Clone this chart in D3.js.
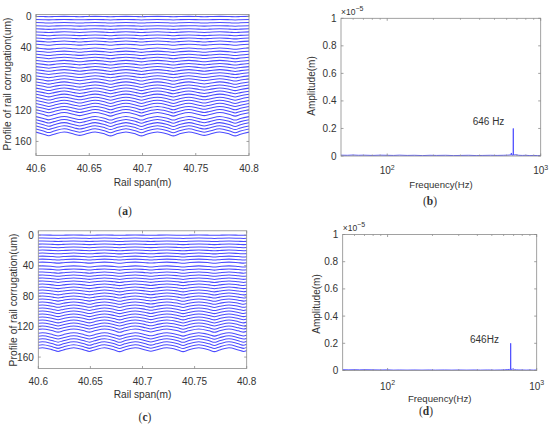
<!DOCTYPE html>
<html><head><meta charset="utf-8">
<script src="https://cdn.jsdelivr.net/npm/d3@7"></script>
<style>
body{margin:0;background:#fff;}
text{font-family:"Liberation Sans",Arial,sans-serif;fill:#333;}
</style></head>
<body><svg id="c" width="550" height="432"></svg>
<script>
// ---------- DATA ----------
const profileXTicks = [40.6, 40.65, 40.7, 40.75, 40.8];
const profileYTicks = [0, 40, 80, 120, 160];
// vertical offset (um) of each stacked profile line
const profileOffsets = [0,4,8,12,16,20,24,28,32,36,41,45,49,53,57,61,65,69,73,77,81,85,89,93,97,101,105,109,113,117,121,125,130,134,138,142,146,150];
// corrugation amplitude of each line (um), panel (a) and (c)
const ampsA = [0.2,0.25,0.3,0.3,0.35,0.4,0.45,0.5,0.55,0.6,0.65,0.7,0.75,0.8,0.85,0.9,0.95,1.0,1.05,1.1,1.2,1.3,1.4,1.45,1.5,1.6,1.7,1.75,1.8,1.85,1.9,1.95,2.0,2.05,2.1,2.15,2.2,2.2];
const ampsC = [0.2,0.25,0.3,0.35,0.35,0.4,0.45,0.5,0.55,0.6,0.65,0.7,0.75,0.8,0.85,0.9,0.95,1.0,1.1,1.15,1.2,1.3,1.35,1.4,1.5,1.55,1.6,1.7,1.75,1.8,1.85,1.9,1.95,2.0,2.05,2.1,2.15,2.2];
// normalised profile shape [rail span (m), deviation] ; + = downward
const shapeA = [[40.6,-0.9],[40.607,0.3],[40.612,1.2],[40.617,0.3],[40.6265,-1],[40.636,0.3],[40.641,1.0],[40.646,0.3],[40.6555,-1],[40.665,0.3],[40.670,1.3],[40.675,0.3],[40.6845,-1],[40.694,0.3],[40.699,1.3],[40.704,0.3],[40.714,-1],[40.724,0.3],[40.729,1.3],[40.734,0.3],[40.7435,-1],[40.753,0.3],[40.758,1.0],[40.763,0.3],[40.7725,-1],[40.782,0.3],[40.787,1.3],[40.792,0.3],[40.8,-0.9]];
const shapeC = [[40.6,-0.7],[40.604,-1],[40.614,0.3],[40.619,1.2],[40.624,0.3],[40.634,-1],[40.644,0.3],[40.649,1.2],[40.654,0.3],[40.6635,-1],[40.673,0.3],[40.678,1.3],[40.683,0.3],[40.693,-1],[40.703,0.3],[40.708,1.1],[40.713,0.3],[40.7235,-1],[40.734,0.3],[40.739,1.3],[40.744,0.3],[40.754,-1],[40.764,0.3],[40.769,1.3],[40.774,0.3],[40.783,-1],[40.792,0.3],[40.797,1.2],[40.8,0.6]];
// spectra: frequency (Hz) and amplitude (x1e-5 m)
const specYTicks = [0, 0.2, 0.4, 0.6, 0.8, 1];
const freqB = [50,55,60,65,70,80,90,100,110,120,135,150,170,190,210,240,270,300,340,380,420,470,520,570,610,640,644,648,662,663,664,690,720,760,800,850,900,950,1000];
const ampB  = [0.006,0.005,0.007,0.005,0.006,0.004,0.006,0.005,0.004,0.006,0.004,0.005,0.003,0.005,0.004,0.005,0.003,0.004,0.005,0.003,0.004,0.005,0.004,0.005,0.006,0.008,0.022,0.006,0.007,0.2,0.007,0.009,0.005,0.004,0.005,0.003,0.004,0.003,0.004];
const freqD = [50,55,60,65,70,80,90,100,110,120,135,150,170,190,210,240,270,300,340,380,420,470,520,570,610,640,655,668,669,670,700,710,730,760,800,850,900,950,1000];
const ampD  = [0.006,0.005,0.006,0.005,0.006,0.005,0.004,0.005,0.003,0.004,0.003,0.004,0.003,0.004,0.003,0.004,0.003,0.004,0.003,0.004,0.003,0.004,0.003,0.004,0.005,0.007,0.008,0.007,0.2,0.007,0.012,0.006,0.005,0.004,0.004,0.003,0.004,0.003,0.004];
const peakLabels = ["646 Hz", "646Hz"];
const panelLabels = ["a","b","c","d"];

// ---------- DRAW ----------
const svg = d3.select("#c");
svg.append("rect").attr("width",550).attr("height",432).attr("fill","#fff");
const AX = "#8a8a8a";
const LINE = "#4a4aff";

function box(g, x0, x1, y0, y1){
  g.append("rect").attr("x",x0).attr("y",y0).attr("width",x1-x0).attr("height",y1-y0)
   .attr("fill","none").attr("stroke",AX).attr("stroke-width",0.8);
}

function profilePanel(id, L, shape, amps){
  const g = svg.append("g");
  const x = d3.scaleLinear().domain([40.6,40.8]).range([L.x0,L.x1]);
  const y = d3.scaleLinear().domain(L.yd).range([L.y0,L.y1]);
  g.append("clipPath").attr("id","cp"+id).append("rect")
    .attr("x",L.x0).attr("y",L.y0).attr("width",L.x1-L.x0).attr("height",L.y1-L.y0);
  const line = d3.line().x(d=>x(d[0])).y(d=>y(d[1])).curve(d3.curveMonotoneX);
  const lg = g.append("g").attr("clip-path",`url(#cp${id})`);
  profileOffsets.forEach((off,i)=>{
    lg.append("path").attr("d", line(shape.map(p=>[p[0], off + amps[i]*p[1]])))
      .attr("fill","none").attr("stroke",LINE).attr("stroke-width",1.05);
  });
  box(g, L.x0, L.x1, L.y0, L.y1);
  profileXTicks.forEach(t=>{
    const px = x(t);
    g.append("line").attr("x1",px).attr("x2",px).attr("y1",L.y1).attr("y2",L.y1-2.5).attr("stroke",AX).attr("stroke-width",0.8);
    g.append("line").attr("x1",px).attr("x2",px).attr("y1",L.y0).attr("y2",L.y0+2.5).attr("stroke",AX).attr("stroke-width",0.8);
    g.append("text").attr("x",px).attr("y",L.xty).attr("text-anchor","middle").attr("dominant-baseline","central")
      .attr("font-size",10).text(d3.format("")(t));
  });
  profileYTicks.forEach(t=>{
    const py = y(t);
    g.append("line").attr("x1",L.x0).attr("x2",L.x0+2.5).attr("y1",py).attr("y2",py).attr("stroke",AX).attr("stroke-width",0.8);
    g.append("line").attr("x1",L.x1).attr("x2",L.x1-2.5).attr("y1",py).attr("y2",py).attr("stroke",AX).attr("stroke-width",0.8);
    g.append("text").attr("x",L.x0-4.5).attr("y",py).attr("text-anchor","end").attr("dominant-baseline","central")
      .attr("font-size",10).text(t);
  });
  g.append("text").attr("x",(L.x0+L.x1)/2).attr("y",L.xly).attr("text-anchor","middle").attr("dominant-baseline","central")
    .attr("font-size",10.2).text("Rail span(m)");
  g.append("text").attr("transform",`translate(${L.ylx},${L.yly}) rotate(-90)`).attr("text-anchor","middle").attr("dominant-baseline","central")
    .attr("font-size",10.3).text("Profile of rail corrugation(um)");
}

function specPanel(id, L, fr, am, peakLabel){
  const g = svg.append("g");
  const x = d3.scaleLog().domain([50,1000]).range([L.x0,L.x1]);
  const y = d3.scaleLinear().domain([0,1]).range([L.y1,L.y0]);
  g.append("clipPath").attr("id","cs"+id).append("rect")
    .attr("x",L.x0).attr("y",L.y0-1).attr("width",L.x1-L.x0).attr("height",L.y1-L.y0+1);
  const line = d3.line().x((d,i)=>x(fr[i])).y(d=>y(d));
  g.append("path").attr("clip-path",`url(#cs${id})`).attr("d",line(am))
    .attr("fill","none").attr("stroke",LINE).attr("stroke-width",0.9);
  box(g, L.x0, L.x1, L.y0, L.y1);
  const minor = [60,70,80,90,200,300,400,500,600,700,800,900];
  minor.forEach(t=>{
    const px = x(t);
    g.append("line").attr("x1",px).attr("x2",px).attr("y1",L.y1).attr("y2",L.y1-1.5).attr("stroke",AX).attr("stroke-width",0.7);
    g.append("line").attr("x1",px).attr("x2",px).attr("y1",L.y0).attr("y2",L.y0+1.5).attr("stroke",AX).attr("stroke-width",0.7);
  });
  [[100,"2"],[1000,"3"]].forEach(([t,e])=>{
    const px = x(t);
    g.append("line").attr("x1",px).attr("x2",px).attr("y1",L.y1).attr("y2",L.y1-2.5).attr("stroke",AX).attr("stroke-width",0.8);
    g.append("line").attr("x1",px).attr("x2",px).attr("y1",L.y0).attr("y2",L.y0+2.5).attr("stroke",AX).attr("stroke-width",0.8);
    const tx = g.append("text").attr("x",px).attr("y",L.xty+3.5).attr("text-anchor","middle").attr("font-size",10);
    tx.append("tspan").text("10");
    tx.append("tspan").attr("font-size",7).attr("dy",-4.5).text(e);
  });
  specYTicks.forEach(t=>{
    const py = y(t);
    g.append("line").attr("x1",L.x0).attr("x2",L.x0+2.5).attr("y1",py).attr("y2",py).attr("stroke",AX).attr("stroke-width",0.8);
    g.append("line").attr("x1",L.x1).attr("x2",L.x1-2.5).attr("y1",py).attr("y2",py).attr("stroke",AX).attr("stroke-width",0.8);
    g.append("text").attr("x",L.x0-4.5).attr("y",py).attr("text-anchor","end").attr("dominant-baseline","central")
      .attr("font-size",10).text(t);
  });
  const ex = g.append("text").attr("x",L.x0).attr("y",L.ey+3).attr("font-size",8.5);
  ex.append("tspan").text("\u00d710");
  ex.append("tspan").attr("font-size",7).attr("dy",-4).text("\u22125");
  g.append("text").attr("x",L.plx).attr("y",L.ply).attr("dominant-baseline","central").attr("font-size",10).text(peakLabel);
  g.append("text").attr("x",L.xlx).attr("y",L.xly).attr("text-anchor","middle").attr("dominant-baseline","central")
    .attr("font-size",9.6).text("Frequency(Hz)");
  g.append("text").attr("transform",`translate(${L.ylx},${L.yly}) rotate(-90)`).attr("text-anchor","middle").attr("dominant-baseline","central")
    .attr("font-size",10).text("Amplitude(m)");
}

function panelTag(letter, px, py){
  const t = svg.append("text").attr("x",px).attr("y",py).attr("text-anchor","middle").attr("dominant-baseline","central")
    .style("font-family","'Liberation Serif','Times New Roman',serif").attr("font-size",11.5);
  t.append("tspan").text("(");
  t.append("tspan").attr("font-weight","bold").text(letter);
  t.append("tspan").text(")");
}

profilePanel("a", {x0:36,x1:249,y0:14.5,y1:155.5,yd:[-2.6,178],xty:168,xly:182,ylx:7.5,yly:84}, shapeA, ampsA);
profilePanel("c", {x0:38.3,x1:246.7,y0:230.8,y1:368.5,yd:[-5.7,175],xty:381,xly:394,ylx:13,yly:300}, shapeC, ampsC);
specPanel("b", {x0:341,x1:540.7,y0:18.3,y1:156,xty:170.7,xlx:441,xly:184,ylx:311.7,yly:86,ey:11.7,plx:472.7,ply:121.7}, freqB, ampB, peakLabels[0]);
specPanel("d", {x0:342.7,x1:536.7,y0:234.5,y1:370.5,xty:386,xlx:439.7,xly:398.3,ylx:316.5,yly:304,ey:227.7,plx:470,ply:339.3}, freqD, ampD, peakLabels[1]);
panelTag(panelLabels[0],125,211);
panelTag(panelLabels[1],430,201);
panelTag(panelLabels[2],145,417);
panelTag(panelLabels[3],426,411);
</script></body></html>
